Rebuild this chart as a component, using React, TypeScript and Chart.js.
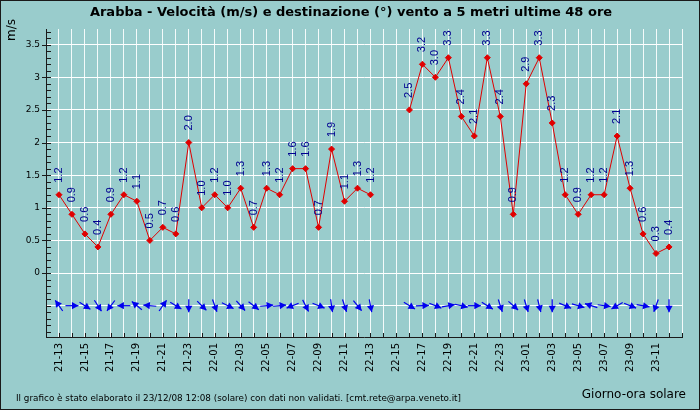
import React, { useEffect, useRef } from "react";
import { Chart, registerables } from "chart.js";
Chart.register(...registerables);

const hours = [
  "21-13","21-14","21-15","21-16","21-17","21-18","21-19","21-20","21-21","21-22","21-23",
  "22-00","22-01","22-02","22-03","22-04","22-05","22-06","22-07","22-08","22-09","22-10","22-11","22-12",
  "22-13","22-14","22-15","22-16","22-17","22-18","22-19","22-20","22-21","22-22","22-23",
  "23-00","23-01","23-02","23-03","23-04","23-05","23-06","23-07","23-08","23-09","23-10","23-11","23-12",
];

const speed = [
  1.2, 0.9, 0.6, 0.4, 0.9, 1.2, 1.1, 0.5, 0.7, 0.6, 2.0,
  1.0, 1.2, 1.0, 1.3, 0.7, 1.3, 1.2, 1.6, 1.6, 0.7, 1.9, 1.1, 1.3,
  1.2, null, null, 2.5, 3.2, 3.0, 3.3, 2.4, 2.1, 3.3, 2.4,
  0.9, 2.9, 3.3, 2.3, 1.2, 0.9, 1.2, 1.2, 2.1, 1.3, 0.6, 0.3, 0.4,
];

// wind destination, degrees (0 = north/up, 90 = east/right)
const direction = [
  325, 90, 123, 147, 217, 270, 309, 275, 35, 121, 180,
  135, 160, 116, 138, 128, 85, 85, 248, 153, 112, 172, 162, 141,
  169, null, null, 121, 88, 112, 80, 103, 90, 122, 162,
  132, 163, 166, 180, 113, 106, 288, 98, 240, 112, 100, 200, 180,
];

const yLabelValues = [0, 0.5, 1, 1.5, 2, 2.5, 3, 3.5];
const yMin = -0.98;
const yMax = 3.74;
const arrowLevel = -0.5;

const TITLE = "Arabba - Velocità (m/s) e destinazione (°) vento a 5 metri ultime 48 ore";
const FOOTER = "Il grafico è stato elaborato il 23/12/08 12:08 (solare) con dati non validati. [cmt.rete@arpa.veneto.it]";
const X_TITLE = "Giorno-ora solare";
const Y_TITLE = "m/s";

const isHalf = (v: number) => Math.abs(v * 2 - Math.round(v * 2)) < 1e-6;

const decorPlugin = {
  id: "decor",
  beforeDraw(chart: any) {
    const { ctx, width, height } = chart;
    ctx.save();
    ctx.fillStyle = "#99cccc";
    ctx.fillRect(0, 0, width, height);
    ctx.strokeStyle = "#1a1a1a";
    ctx.lineWidth = 1;
    ctx.strokeRect(0.5, 0.5, width - 1, height - 1);
    ctx.fillStyle = "#000";
    ctx.font = 'bold 13px "DejaVu Sans"';
    ctx.textAlign = "center";
    ctx.textBaseline = "alphabetic";
    ctx.fillText(TITLE, 351, 16);
    ctx.font = '12px "DejaVu Sans"';
    ctx.textAlign = "right";
    ctx.fillText(X_TITLE, 686, 398);
    ctx.font = '9px "DejaVu Sans"';
    ctx.textAlign = "left";
    ctx.fillText(FOOTER, 16, 401, 445);
    ctx.save();
    ctx.translate(12, 30);
    ctx.rotate(-Math.PI / 2);
    ctx.font = '12px "DejaVu Sans"';
    ctx.textAlign = "center";
    ctx.textBaseline = "middle";
    ctx.fillText(Y_TITLE, 0, 0);
    ctx.restore();
    ctx.restore();
  },
  afterDatasetsDraw(chart: any) {
    const { ctx } = chart;
    const xs = chart.scales.x;
    const ys = chart.scales.y;
    ctx.save();
    // data labels
    ctx.fillStyle = "#000090";
    ctx.font = '11px "Liberation Sans"';
    speed.forEach((v, i) => {
      if (v == null) return;
      const px = xs.getPixelForValue(i);
      const py = ys.getPixelForValue(v);
      ctx.save();
      ctx.translate(px, py - 12);
      ctx.rotate(-Math.PI / 2);
      ctx.textAlign = "left";
      ctx.textBaseline = "middle";
      ctx.fillText(v.toFixed(1), 0, 0);
      ctx.restore();
    });
    // arrows
    ctx.strokeStyle = "#0000ee";
    ctx.fillStyle = "#0000ee";
    ctx.lineWidth = 1.2;
    const L = 13;
    direction.forEach((d, i) => {
      if (d == null) return;
      const cx = xs.getPixelForValue(i);
      const cy = ys.getPixelForValue(arrowLevel);
      const r = (d * Math.PI) / 180;
      const ux = Math.sin(r);
      const uy = -Math.cos(r);
      const tx = cx - (ux * L) / 2;
      const ty = cy - (uy * L) / 2;
      const hx = cx + (ux * L) / 2;
      const hy = cy + (uy * L) / 2;
      ctx.beginPath();
      ctx.moveTo(tx, ty);
      ctx.lineTo(hx, hy);
      ctx.stroke();
      const hl = 6.5, hw = 3.6;
      const bx = hx - ux * hl;
      const by = hy - uy * hl;
      ctx.beginPath();
      ctx.moveTo(hx, hy);
      ctx.lineTo(bx - uy * hw, by + ux * hw);
      ctx.lineTo(bx + uy * hw, by - ux * hw);
      ctx.closePath();
      ctx.fill();
    });
    ctx.restore();
  },
  afterDraw(chart: any) {
    const { ctx, chartArea } = chart;
    const xs = chart.scales.x;
    const ys = chart.scales.y;
    ctx.save();
    ctx.strokeStyle = "#1a1a1a";
    ctx.lineWidth = 1;
    ctx.beginPath();
    // y minor ticks inside, major outside
    for (let k = -9; k <= 37; k++) {
      const v = k / 10;
      const py = Math.round(ys.getPixelForValue(v)) + 0.5;
      ctx.moveTo(chartArea.left, py);
      ctx.lineTo(chartArea.left + 5, py);
      if (isHalf(v) && v >= 0) {
        ctx.moveTo(chartArea.left - 4, py);
        ctx.lineTo(chartArea.left, py);
      }
    }
    // x ticks inside
    for (let i = 0; i <= hours.length; i++) {
      const px = Math.round(xs.getPixelForValue(i)) + 0.5;
      ctx.moveTo(px, chartArea.bottom);
      ctx.lineTo(px, chartArea.bottom - 4);
    }
    ctx.stroke();
    ctx.restore();
  },
};

export default function App() {
  const ref = useRef<HTMLCanvasElement | null>(null);
  useEffect(() => {
    if (!ref.current) return;
    const chart = new Chart(ref.current, {
      type: "line",
      data: {
        datasets: [
          {
            data: speed.map((v, i) => ({ x: i, y: v })) as any,
            borderColor: "#e00000",
            borderWidth: 1,
            backgroundColor: "#e00000",
            pointBackgroundColor: "#e00000",
            pointBorderColor: "#e00000",
            pointStyle: "rectRot",
            pointRadius: 3,
            pointBorderWidth: 1,
            spanGaps: false,
            tension: 0,
          },
        ],
      },
      options: {
        animation: false,
        responsive: false,
        devicePixelRatio: 1,
        layout: { padding: { top: 29, right: 15, left: 0, bottom: 0 } },
        plugins: { legend: { display: false }, tooltip: { enabled: false }, title: { display: false } },
        scales: {
          x: {
            type: "linear",
            min: -1,
            max: hours.length,
            afterBuildTicks: (scale: any) => {
              scale.ticks = Array.from({ length: hours.length + 1 }, (_, i) => ({ value: i }));
            },
            afterFit: (scale: any) => {
              scale.height = 73;
            },
            ticks: {
              autoSkip: false,
              minRotation: 90,
              maxRotation: 90,
              padding: 6,
              color: "#000",
              font: { family: "DejaVu Sans", size: 10 },
              callback: (value: any) => {
                const i = Number(value);
                return i % 2 === 0 && i < hours.length ? hours[i] : "";
              },
            },
            grid: { color: "#f4fafa", lineWidth: 1, drawTicks: false },
            border: { display: true, color: "#1a1a1a", width: 1 },
          },
          y: {
            type: "linear",
            min: yMin,
            max: yMax,
            afterBuildTicks: (scale: any) => {
              const t = [];
              for (let k = -9; k <= 37; k++) t.push({ value: k / 10 });
              scale.ticks = t;
            },
            afterFit: (scale: any) => {
              scale.width = 46;
            },
            ticks: {
              autoSkip: false,
              padding: 6,
              color: "#000",
              font: { family: "DejaVu Sans", size: 9 },
              callback: (value: any) => {
                const v = Number(value);
                const found = yLabelValues.find((y) => Math.abs(y - v) < 1e-6);
                return found === undefined ? "" : String(found);
              },
            },
            grid: {
              drawTicks: false,
              lineWidth: 1,
              color: (c: any) => {
                const v = c.tick ? c.tick.value : 0;
                return isHalf(v) ? "#ffffff" : "rgba(0,0,0,0)";
              },
            },
            border: { display: true, color: "#1a1a1a", width: 1 },
          },
        },
      },
      plugins: [decorPlugin],
    });
    return () => chart.destroy();
  }, []);
  return (
    <div style={{ position: "absolute", left: 0, top: 0, width: 700, height: 410 }}>
      <canvas ref={ref} width={700} height={410} style={{ display: "block" }} />
    </div>
  );
}
